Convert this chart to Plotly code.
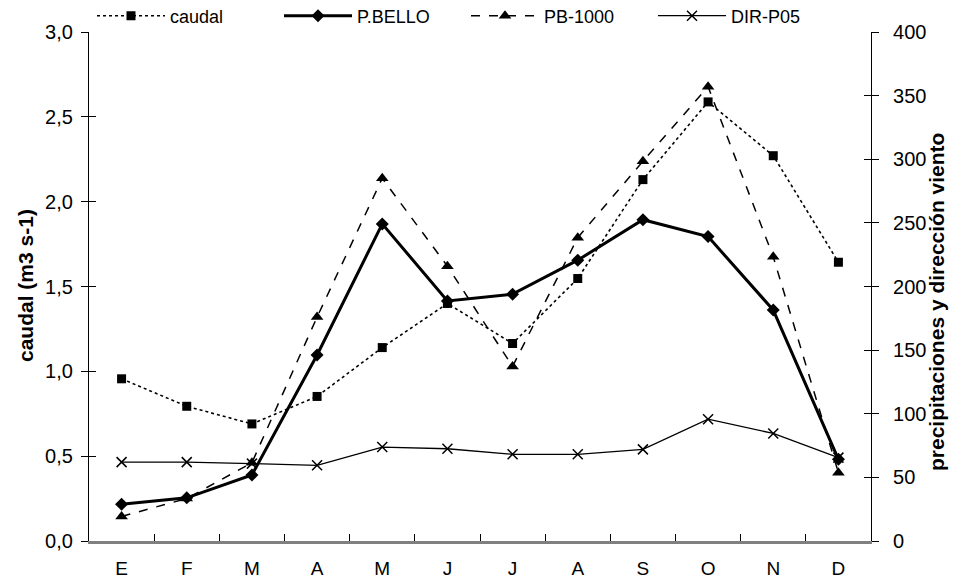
import plotly.graph_objects as go

months = ["E", "F", "M", "A", "M", "J", "J", "A", "S", "O", "N", "D"]
caudal = [0.956, 0.794, 0.69, 0.852, 1.14, 1.40, 1.164, 1.547, 2.13, 2.588, 2.271, 1.643]
p_bello = [28.9, 33.9, 51.9, 146.2, 249.2, 188.7, 194.0, 220.7, 252.5, 239.2, 181.5, 64.2]
pb_1000 = [19.3, 33.4, 61.5, 176.0, 285.0, 216.0, 137.2, 238.4, 298.4, 357.0, 223.3, 53.7]
dir_p05 = [62.0, 62.0, 60.8, 59.5, 73.8, 72.5, 68.1, 68.1, 72.0, 95.7, 84.5, 65.5]
left_ticks = [0, 0.5, 1.0, 1.5, 2.0, 2.5, 3.0]
right_ticks = [0, 50, 100, 150, 200, 250, 300, 350, 400]

# unique category keys (duplicated month initials) rendered with the same text
seen = {}
cats = []
for m in months:
    k = seen.get(m, 0)
    cats.append(m + "\u200b" * k)
    seen[m] = k + 1

FONT = "Arial, Liberation Sans, sans-serif"

fig = go.Figure()
fig.add_trace(go.Scatter(x=cats, y=caudal, name="caudal", mode="lines+markers",
                         line=dict(color="black", width=1.6, dash="dot"),
                         marker=dict(symbol="square", size=9, color="black"),
                         yaxis="y"))
fig.add_trace(go.Scatter(x=cats, y=p_bello, name="P.BELLO", mode="lines+markers",
                         line=dict(color="black", width=3),
                         marker=dict(symbol="diamond", size=10, color="black"),
                         yaxis="y2"))
fig.add_trace(go.Scatter(x=cats, y=pb_1000, name="PB-1000", mode="lines+markers",
                         line=dict(color="black", width=1.5, dash="dash"),
                         marker=dict(symbol="triangle-up", size=11, color="black"),
                         yaxis="y2"))
fig.add_trace(go.Scatter(x=cats, y=dir_p05, name="DIR-P05", mode="lines+markers",
                         line=dict(color="black", width=1.3),
                         marker=dict(symbol="x-thin", size=10, color="black",
                                     line=dict(color="black", width=1.5)),
                         yaxis="y2"))
# empty traces to activate overlay axes that draw the inner half of crossing ticks
fig.add_trace(go.Scatter(x=[], y=[], yaxis="y3", showlegend=False, hoverinfo="skip"))
fig.add_trace(go.Scatter(x=[], y=[], yaxis="y4", showlegend=False, hoverinfo="skip"))

tickfont = dict(family=FONT, size=20, color="black")
xtickfont = dict(family=FONT, size=19, color="black")
titlefont = dict(family=FONT, size=21, color="black")

fig.update_layout(
    width=953, height=580,
    margin=dict(l=89, r=82, t=32, b=39, autoexpand=False),
    paper_bgcolor="white", plot_bgcolor="white",
    separators=",.",
    font=dict(family=FONT, size=17, color="black"),
    showlegend=True,
    legend=dict(orientation="h", x=(92 - 89) / 782, xref="paper", xanchor="left",
                y=1 - 16 / 580, yref="container", yanchor="middle",
                bgcolor="rgba(0,0,0,0)", font=dict(family=FONT, size=18, color="black"),
                itemwidth=68, entrywidth=104, entrywidthmode="pixels",
                tracegroupgap=0),
    xaxis=dict(type="category", tickson="boundaries", ticks="inside", ticklen=7,
               tickcolor="black", tickwidth=1, showline=True, linecolor="#808080",
               linewidth=2.5, showgrid=False, zeroline=False, tickfont=xtickfont,
               range=[-0.5, 11.5], ticklabelstandoff=8),
    yaxis=dict(range=[0, 3.0], tickmode="array",
               tickvals=left_ticks,
               ticktext=[f"{v:.1f}".replace(".", ",") for v in left_ticks],
               ticks="outside", ticklen=7, tickcolor="black", showline=True,
               linecolor="black", linewidth=1.2, showgrid=False, zeroline=False,
               tickfont=tickfont, ticklabelstandoff=4),
    yaxis2=dict(range=[0, 400], tickvals=right_ticks,
                overlaying="y", side="right", anchor="x",
                ticks="outside", ticklen=7, tickcolor="black", showline=True,
                linecolor="black", linewidth=1.2, showgrid=False, zeroline=False,
                tickfont=tickfont, ticklabelstandoff=10),
    yaxis3=dict(range=[0, 3.0], tickvals=left_ticks,
                overlaying="y", side="left", anchor="x", ticks="inside", ticklen=7,
                tickcolor="black", showticklabels=False, showline=False,
                showgrid=False, zeroline=False),
    yaxis4=dict(range=[0, 400], tickvals=right_ticks,
                overlaying="y", side="right", anchor="x", ticks="inside", ticklen=7,
                tickcolor="black", showticklabels=False, showline=False,
                showgrid=False, zeroline=False),
    annotations=[
        dict(text="<b>caudal (m3 s-1)</b>", textangle=-90, font=titlefont,
             xref="paper", yref="paper", x=-(89 - 25) / 782, y=(541 - 286) / 509,
             xanchor="center", yanchor="middle", showarrow=False),
        dict(text="<b>precipitaciones y dirección viento</b>", textangle=-90,
             font=titlefont, xref="paper", yref="paper", x=1 + (936 - 871) / 782,
             y=(541 - 302) / 509, xanchor="center", yanchor="middle", showarrow=False),
    ],
)

fig.write_html("out.html")
